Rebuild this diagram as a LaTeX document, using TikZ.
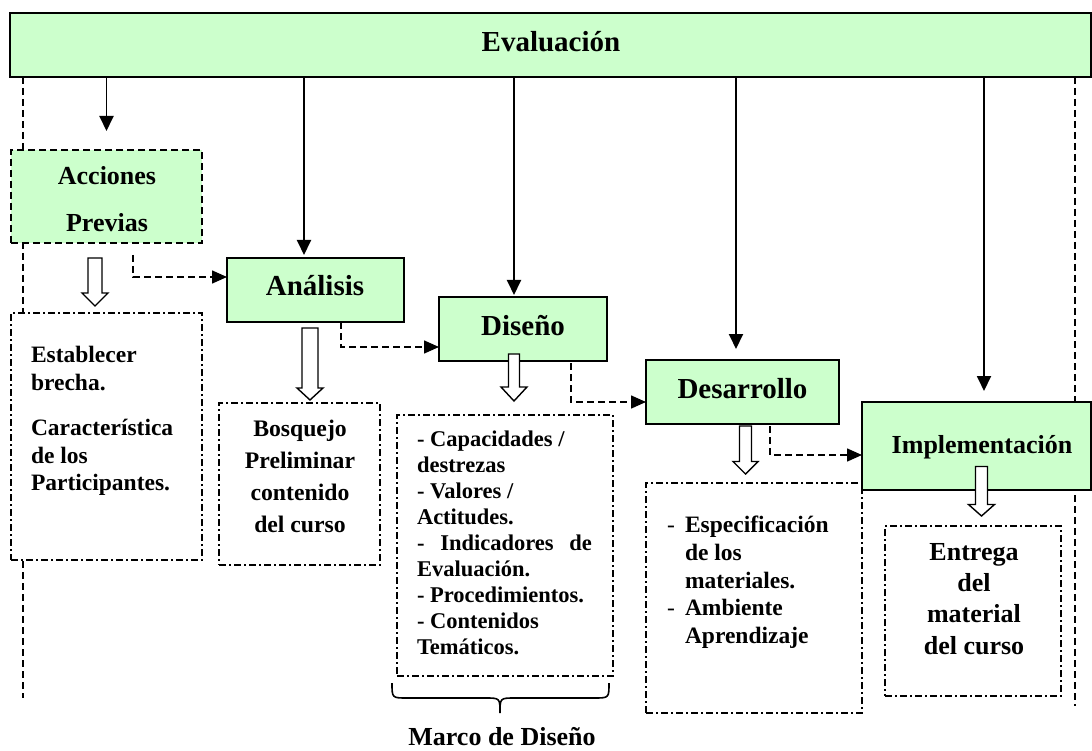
\documentclass[tikz,border=0pt]{standalone}
\usepackage{fontspec}
\setmainfont{Liberation Serif}
\usetikzlibrary{arrows.meta,calc}
\definecolor{boxgreen}{RGB}{204,255,204}

% font size helper (size in pt)
\newcommand\setfs[1]{\fontsize{#1}{#1}\selectfont}
% rectangle node from its top-left to bottom-right corner
\newcommand\panel[6]{\node[#1, minimum width={#5pt-#3pt}, minimum height={#6pt-#4pt}, anchor=north west] (#2) at (#3,#4) {};}
% hollow block arrow: centre x, top, head start, tip, shaft half width, head half width
\newcommand\hollowarrow[6]{\draw[hollow] (#1-#5,#2) -- (#1+#5,#2) -- (#1+#5,#3) -- (#1+#6,#3) -- (#1,#4) -- (#1-#6,#3) -- (#1-#5,#3) -- cycle;}

\begin{document}
\begin{tikzpicture}[x=1pt,y=-1pt,
  every node/.style={inner sep=0pt, outer sep=0pt},
  stage/.style={draw, line width=1.9pt, fill=boxgreen, rectangle},
  prevbox/.style={draw, line width=1.6pt, fill=boxgreen, dash pattern=on 7pt off 4pt},
  notebox/.style={draw, line width=1.4pt, fill=white, dash pattern=on 7pt off 3pt on 2pt off 3pt},
  guide/.style={line width=1.6pt, dash pattern=on 7pt off 4pt},
  flow/.style={line width=1.9pt, -{Triangle[length=15pt,width=14pt]}},
  link/.style={line width=1.5pt, dash pattern=on 7pt off 4pt, -{Triangle[length=15pt,width=13pt]}},
  hollow/.style={draw, line width=1.4pt, fill=white, line join=miter},
  title/.style={font=\bfseries\setfs{29}, anchor=base},
  subtitle/.style={font=\bfseries\setfs{26}, anchor=base},
]
\useasboundingbox (0,0) rectangle (1092,751);

% Evaluación bar
\panel{stage}{eval}{10}{13}{1091}{77}

% side guide lines
\coordinate (lg) at (23,698);
\coordinate (rg) at (1075,706);
\draw[guide] (lg |- eval.south) -- (lg);
\draw[guide] (rg |- eval.south) -- (rg);

% note boxes
\panel{notebox}{est}{11}{313}{202}{560}
\panel{notebox}{bos}{219}{403}{380}{565}
\panel{notebox}{lst}{397}{415}{613}{676}
\panel{notebox}{esp}{646}{483}{862}{713}
\panel{notebox}{ent}{885}{526}{1061}{696}

% stage boxes
\panel{prevbox}{acc}{11}{150}{202}{243}
\panel{stage}{ana}{227}{258}{404}{322}
\panel{stage}{dis}{439}{297}{607}{361}
\panel{stage}{des}{646}{360}{839}{424}
\panel{stage}{imp}{862}{402}{1091}{490}

% hollow arrows from each stage to its notes
\hollowarrow{95}{258}{293}{306}{7}{13}
\hollowarrow{310}{328}{388}{400}{8}{13}
\hollowarrow{514}{354}{387}{401}{5.5}{13}
\hollowarrow{745.5}{426}{461.5}{474}{6}{12.5}
\hollowarrow{981.5}{466.5}{504.5}{516}{6}{13}

% arrows from Evaluación to each stage
\coordinate (t2) at ([xshift=-11.5pt]ana.north);
\coordinate (t3) at ([xshift=-9pt]dis.north);
\coordinate (t4) at ([xshift=-6.5pt]des.north);
\coordinate (t5) at ([xshift=7.5pt]imp.north);
\draw[flow, shorten >=19pt] (eval.south -| acc.north) -- (acc.north);
\draw[flow, shorten >=3pt] (t2 |- eval.south) -- (t2);
\draw[flow, shorten >=2pt] (t3 |- eval.south) -- (t3);
\draw[flow, shorten >=11pt] (t4 |- eval.south) -- (t4);
\draw[flow, shorten >=11pt] (t5 |- eval.south) -- (t5);

% dashed links between consecutive stages
\coordinate (s1) at ([xshift=26.5pt,yshift=-12pt]acc.south);
\coordinate (s2) at ([xshift=25.5pt]ana.south);
\coordinate (s3) at ([xshift=48pt,yshift=-2pt]dis.south);
\coordinate (s4) at ([xshift=27.5pt,yshift=-2pt]des.south);
\draw[link] (s1) |- ([yshift=13pt]ana.west);
\draw[link] (s2) |- ([yshift=-18pt]dis.west);
\draw[link] (s3) |- ([yshift=-10pt]des.west);
\draw[link] (s4) |- ([yshift=-9pt]imp.west);

% brace under the design notes
\draw[line width=1.6pt] (392,683) .. controls (392,698) .. (407,698) -- (485,698)
  .. controls (500,698) .. (500,713) .. controls (500,698) .. (515,698) -- (594,698)
  .. controls (609,698) .. (609,683);

% titles
\node[title] (evalt) at (551,52) {Evaluación};
\node[title] (anat) at (315,295) {Análisis};
\node[title] (dist) at (523,335) {Diseño};
\node[title] (dest) at (742.5,398) {Desarrollo};
\node[subtitle] (impt) at (982,453) {Implementación};
\node[subtitle] (acct1) at (107,185) {Acciones};
\node[subtitle] (acct2) at (107,232) {Previas};

% note texts
\foreach \t/\y [count=\i] in {Establecer/362, brecha./390, Característica/435, de los/463, Participantes./490}
  \node[font=\bfseries\setfs{23.5}, anchor=base west] (est\i) at (31,\y) {\t};
\foreach \t/\y [count=\i] in {Bosquejo/436, Preliminar/468, contenido/500, del curso/532}
  \node[font=\bfseries\setfs{23.7}, anchor=base] (bos\i) at (300,\y) {\t};
\foreach \t [count=\i] in {- Capacidades /, destrezas, - Valores /, Actitudes.,
    {\makebox[175pt][l]{-\hfill Indicadores\hfill de}}, Evaluación., - Procedimientos., - Contenidos, Temáticos.}
  \node[font=\bfseries\setfs{22.5}, anchor=base west] (lst\i) at (417,{446+26*(\i-1)}) {\t};
\foreach \t/\y [count=\i] in {Especificación/532, de los/560, materiales./588, Ambiente/615, Aprendizaje/643}
  \node[font=\bfseries\setfs{23.5}, anchor=base west] (esp\i) at (685,\y) {\t};
\node[font=\setfs{23.5}, anchor=base west] (espd1) at (667,532) {-};
\node[font=\setfs{23.5}, anchor=base west] (espd2) at (667,615) {-};
\foreach \t/\y [count=\i] in {Entrega/560, del/591, material/622, del curso/654}
  \node[font=\bfseries\setfs{26}, anchor=base] (ent\i) at (974,\y) {\t};
\node[subtitle] (marco) at (502,745) {Marco de Diseño};
\end{tikzpicture}
\end{document}
